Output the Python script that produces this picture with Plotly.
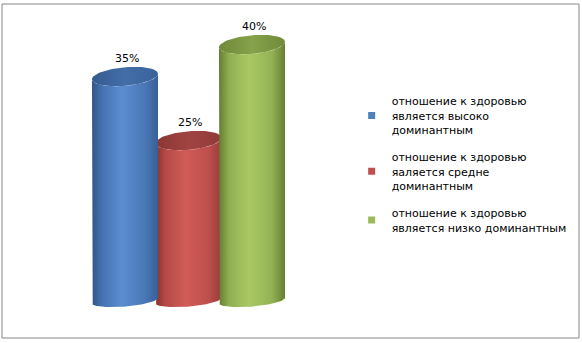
import numpy as np
import plotly.graph_objects as go

categories = [
    "отношение к здоровью<br>является высоко<br>доминантным",
    "отношение к здоровью<br>яаляется средне<br>доминантным",
    "отношение к здоровью<br>является низко доминантным",
]
values = [35, 25, 40]
value_labels = ["35%", "25%", "40%"]

base_colors = ["#4f81bd", "#c0504d", "#9bbb59"]
body_scales = [
    [[0, "#325687"], [0.15, "#4572b0"], [0.45, "#5b8dd1"], [0.8, "#4a78b6"], [1, "#385f96"]],
    [[0, "#86302e"], [0.15, "#b34a47"], [0.45, "#d15b57"], [0.8, "#bf4f4c"], [1, "#983c3a"]],
    [[0, "#647d31"], [0.15, "#8fae51"], [0.45, "#aac964"], [0.8, "#93b254"], [1, "#667f33"]],
]
top_scales = [
    [[0, "#355b90"], [0.5, "#436ea8"], [1, "#3a629a"]],
    [[0, "#8a3634"], [0.5, "#a04442"], [1, "#913a38"]],
    [[0, "#6f893a"], [0.5, "#86a24a"], [1, "#708a3b"]],
]

half_w = 0.52    # half width of cylinder (category units)
top_b = 1.45     # top ellipse minor half-height (value units)
bot_b = 0.95     # bottom ellipse minor half-height (value units)
ell_s = 0.42     # ellipse shear (value units)

fig = go.Figure()
order = [1, 0, 2]  # drawing order (red behind)
for i in order:
    cx = i
    v = values[i]
    t_bot = np.linspace(np.pi, 0, 60)
    t_top = np.linspace(0, np.pi, 60)
    bx = cx + half_w * np.cos(t_bot)
    by = ell_s * np.cos(t_bot) - bot_b * np.sin(t_bot)
    tx = cx + half_w * np.cos(t_top)
    ty = v + ell_s * np.cos(t_top) - top_b * np.sin(t_top)
    xs = np.concatenate([[cx - half_w], bx, [cx + half_w], tx])
    ys = np.concatenate([[v - ell_s], by, [v + ell_s], ty])
    fig.add_trace(go.Scatter(
        x=xs, y=ys, mode="lines", fill="toself",
        line=dict(width=0), fillgradient=dict(type="horizontal", colorscale=body_scales[i]),
        showlegend=False, hoverinfo="skip"))
    tt = np.linspace(0, 2 * np.pi, 90)
    ex = cx + half_w * np.cos(tt)
    ey = v + ell_s * np.cos(tt) + top_b * np.sin(tt)
    fig.add_trace(go.Scatter(
        x=ex, y=ey, mode="lines", fill="toself",
        line=dict(width=0), fillgradient=dict(type="horizontal", colorscale=top_scales[i]),
        showlegend=False, hoverinfo="skip"))

for i, name in enumerate(categories):
    fig.add_trace(go.Scatter(
        x=[None], y=[None], mode="markers", name=name,
        marker=dict(symbol="square", size=7, color=base_colors[i]),
        legendgroup=f"g{i}", legendrank=i + 1, hoverinfo="skip"))

for i, v in enumerate(values):
    fig.add_annotation(x=i + 0.03, y=v, text=value_labels[i], showarrow=False,
                       yshift=18, font=dict(size=11, color="#000000", family="DejaVu Sans"))

fig.add_shape(type="rect", xref="paper", yref="paper", x0=0, x1=1, y0=0, y1=1,
              line=dict(color="#868686", width=1))

fig.update_layout(
    width=582, height=343,
    margin=dict(l=2, r=3, t=4, b=5),
    paper_bgcolor="white", plot_bgcolor="white",
    xaxis=dict(range=[-1.937, 7.15], visible=False, fixedrange=True),
    yaxis=dict(range=[-5.86, 46.33], visible=False, fixedrange=True),
    font=dict(family="DejaVu Sans", size=11, color="#000000"),
    legend=dict(x=0.606, y=0.75, xanchor="left", yanchor="top",
                traceorder="grouped", tracegroupgap=10,
                font=dict(size=11, family="DejaVu Sans", color="#000000"),
                bgcolor="rgba(0,0,0,0)"),
    showlegend=True,
)

fig.write_html("out.html", config={"displayModeBar": False},
               post_script="document.body.style.margin='0';")
